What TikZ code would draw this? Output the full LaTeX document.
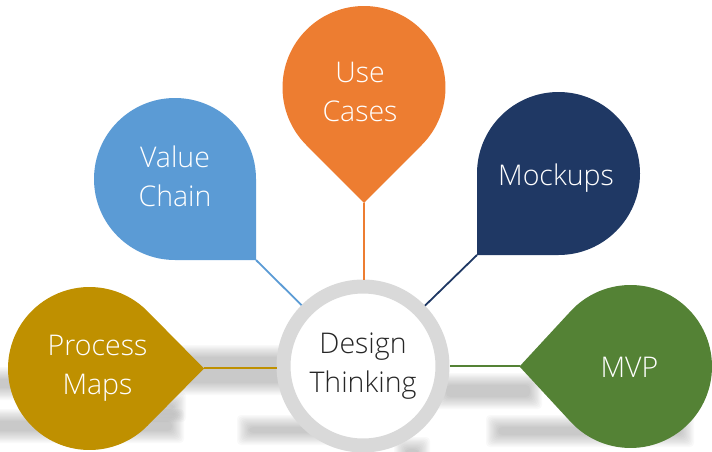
\documentclass[tikz,border=0pt]{standalone}
\usepackage{fontspec}
\setmainfont{Open Sans Light}
\definecolor{cValue}{HTML}{5B9BD5}
\definecolor{cUse}{HTML}{ED7D31}
\definecolor{cMock}{HTML}{1F3864}
\definecolor{cMVP}{HTML}{548235}
\definecolor{cProc}{HTML}{BF9000}
\definecolor{cRing}{HTML}{D9D9D9}
\newcommand{\softband}[4]{%
  \foreach \e in {0,1,...,9}{
    \fill[black,opacity=0.024,rounded corners=4pt]
      ({#1-6+1.33*\e},{#2-6+1.33*\e}) rectangle ({#3+6-1.33*\e},{#4+6-1.33*\e});
  }}
% cx, cy, screen angle of tip, colour, distance of the tip from the centre
\newcommand{\tear}[5]{%
  \pgfmathsetmacro{\halfgap}{acos(81.5/#5)}%
  \fill[#4] ({#1+81.5*cos(#3+\halfgap)},{#2+81.5*sin(#3+\halfgap)})
    arc[start angle=#3+\halfgap,delta angle=360-2*\halfgap,radius=81.5]
    -- ({#1+#5*cos(#3)},{#2+#5*sin(#3)}) -- cycle;}
\tikzset{
  lbl/.style={font=\fontsize{28.5}{39}\selectfont,text=white,align=center,inner sep=0pt},
  link/.style={line width=1.8pt},
  hubring/.style={circle,draw=cRing,fill=white,line width=14pt,minimum size=159pt,inner sep=0pt,
    font=\fontsize{28.5}{39}\selectfont,text=black!85,align=center}
}
\begin{document}
\begin{tikzpicture}[x=1pt,y=-1pt]
\useasboundingbox (0,0) rectangle (712,452);
\clip (0,0) rectangle (712,452);
% soft shadows on the ground
\softband{135}{351}{290}{389}
\softband{-10}{415}{178}{437}
\softband{-10}{373}{24}{394}
\softband{130}{398}{180}{416}
\softband{243}{421}{370}{439}
\softband{440}{379}{536}{403}
\softband{492}{421}{688}{441}
\softband{400}{443}{424}{460}
% anchor points
\coordinate (tipProc) at (204,368);
\coordinate (tipMVP) at (519.5,366);
\coordinate (tipUse) at (364,203);
\coordinate (cornerValue) at (256,260);
\coordinate (cornerMock) at (477,255);
% hub
\node[hubring] (hub) at (363,366) {Design\\Thinking};
% connectors
\draw[link,cProc] (tipProc) -- (hub.west |- tipProc);
\draw[link,cMVP] (tipMVP) -- (hub.east |- tipMVP);
\draw[link,cUse] (tipUse) -- (tipUse |- hub.north);
\draw[link,cValue] (cornerValue) -- (hub);
\draw[link,cMock] (cornerMock) -- (hub);
% teardrops
\tear{89.5}{368.5}{0}{cProc}{114.5}
\tear{630.5}{366.5}{180}{cMVP}{111}
\tear{364}{87.5}{90}{cUse}{115.5}
\fill[cValue] (256,260) -- (175,260) arc[start angle=90,delta angle=270,radius=81] -- cycle;
\fill[cMock] (477,255) -- (477,173.5) arc[start angle=180,delta angle=270,radius=81.5] -- cycle;
% labels
\node[lbl] (lProc) at (97.5,368) {Process\\Maps};
\node[lbl] (lValue) at (175,176) {Value\\Chain};
\node[lbl] (lUse) at (360,92) {Use\\Cases};
\node[lbl] (lMock) at (556,178) {Mockups};
\node[lbl] (lMVP) at (629.5,367.5) {MVP};
\end{tikzpicture}
\end{document}
